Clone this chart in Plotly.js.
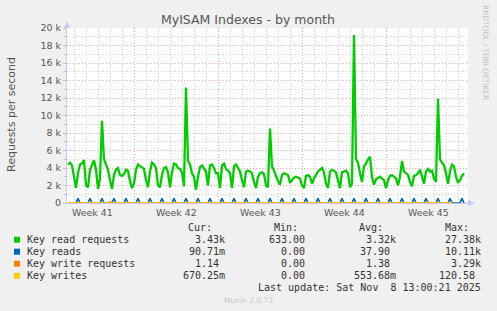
<!DOCTYPE html>
<html>
<head>
<meta charset="utf-8">
<script src="https://cdn.plot.ly/plotly-3.0.1.min.js"></script>
<style>
html,body{margin:0;padding:0;background:#f0f0f0;}
#chart{width:497px;height:311px;}
</style>
</head>
<body>
<div id="chart"></div>
<script>
// ---- DATA ----
const chartTitle = "MyISAM Indexes - by month";
const yTitle = "Requests per second";
const seriesStart = "2025-10-07T12:00:00Z"; // first sample, 4-hour steps
const stepHours = 4;

// Key read requests (requests/s), 4-hourly samples: 00,04,08,12,16,20
const keyReadRequests = [
  4400, 4600, 4300,                       // Oct 7 (12,16,20)
  3000, 1700, 3400, 4400, 4500, 4900,     // Oct 8
  2000, 1800, 3800, 4300, 4900, 3800,     // Oct 9
  1600, 2800, 9400, 5000, 4500, 3800,     // Oct 10
  2600, 1600, 3200, 3800, 4000, 3200,     // Oct 11
  3100, 3300, 3800, 3700, 2500, 1700,     // Oct 12
  2200, 3800, 4400, 4200, 4000, 3900,     // Oct 13
  2600, 1800, 3600, 4600, 4400, 4000,     // Oct 14
  2000, 1800, 3200, 4000, 4100, 3500,     // Oct 15
  1800, 3500, 4500, 4400, 4000, 3900,     // Oct 16
  3500, 1900, 13200, 4800, 4400, 3400,    // Oct 17
  3000, 1500, 3000, 4100, 4300, 4000,     // Oct 18
  3600, 2000, 4300, 4400, 4000, 3400,     // Oct 19
  3400, 1700, 4300, 4500, 3900, 3700,     // Oct 20
  3400, 1700, 4200, 4400, 3900, 3600,     // Oct 21
  2600, 1800, 3600, 3700, 3600, 3400,     // Oct 22
  2400, 1700, 3000, 3400, 3500, 3300,     // Oct 23
  2000, 1800, 8500, 4200, 3700, 3000,     // Oct 24
  2500, 2100, 3200, 3400, 3300, 3200,     // Oct 25
  2300, 2600, 2900, 3000, 2900, 2800,     // Oct 26
  2000, 1700, 3100, 3200, 3000, 2200,     // Oct 27
  2800, 3300, 3600, 3800, 4000, 3500,     // Oct 28
  2200, 1700, 3600, 3800, 3700, 3500,     // Oct 29
  2400, 1700, 3500, 3600, 3700, 3400,     // Oct 30
  1800, 2200, 19200, 5000, 4600, 3400,    // Oct 31
  2400, 4200, 4500, 5000, 5300, 3000,     // Nov 1
  2100, 2700, 2900, 3000, 2800, 2600,     // Nov 2
  1700, 2600, 3100, 3200, 3000, 2800,     // Nov 3
  2000, 3000, 4800, 3600, 3400, 3200,     // Nov 4
  2400, 1900, 3100, 3200, 3400, 3800,     // Nov 5
  3000, 2200, 3600, 3900, 3600, 3700,     // Nov 6
  2800, 2400, 11900, 5000, 4600, 4300,    // Nov 7
  3400, 2200, 3600, 4400, 4200, 3000,     // Nov 8
  2300, 2600, 3100, 3400                  // Nov 9 (00..12)
];

// Key reads
const keyReads = [
  0, 0, 0,
  0, 0, 550, 0, 0, 0,
  0, 0, 550, 0, 0, 0,
  0, 0, 550, 0, 0, 0,
  0, 0, 550, 0, 0, 0,
  0, 0, 550, 0, 0, 0,
  0, 0, 550, 0, 0, 0,
  0, 0, 550, 0, 0, 0,
  0, 0, 550, 0, 0, 0,
  0, 0, 550, 0, 0, 0,
  0, 0, 550, 0, 0, 0,
  0, 0, 550, 0, 0, 0,
  0, 0, 550, 0, 0, 0,
  0, 0, 550, 0, 0, 0,
  0, 0, 550, 0, 0, 0,
  0, 0, 550, 0, 0, 0,
  0, 0, 550, 0, 0, 0,
  0, 0, 550, 0, 0, 0,
  0, 0, 550, 0, 0, 0,
  0, 0, 550, 0, 0, 0,
  0, 0, 550, 0, 0, 0,
  0, 0, 550, 0, 0, 0,
  0, 0, 550, 0, 0, 0,
  0, 0, 550, 0, 0, 0,
  0, 0, 550, 0, 0, 0,
  0, 0, 550, 0, 0, 0,
  0, 0, 550, 0, 0, 0,
  0, 0, 550, 0, 0, 0,
  0, 0, 550, 0, 0, 0,
  0, 0, 550, 0, 0, 0,
  0, 0, 550, 0, 0, 0,
  0, 0, 550, 0, 0, 0,
  0, 0, 550, 0, 0, 0,
  0, 0, 550, 0
];

// Key write requests
const keyWriteRequests = [
  0, 0, 0,
  0, 0, 0, 0, 0, 0,
  0, 0, 0, 0, 0, 0,
  0, 0, 0, 0, 0, 0,
  150, 0, 0, 0, 0, 0,
  0, 0, 0, 0, 0, 0,
  0, 0, 0, 0, 0, 0,
  0, 0, 0, 0, 0, 0,
  0, 0, 0, 0, 0, 0,
  0, 0, 0, 0, 0, 0,
  0, 0, 0, 0, 0, 0,
  0, 0, 0, 0, 0, 0,
  0, 0, 0, 0, 0, 0,
  0, 0, 0, 0, 0, 0,
  0, 0, 0, 0, 0, 0,
  0, 0, 0, 0, 0, 0,
  0, 0, 0, 0, 0, 0,
  0, 0, 0, 0, 0, 0,
  0, 0, 0, 0, 0, 0,
  0, 0, 0, 0, 0, 0,
  0, 0, 0, 0, 0, 0,
  0, 0, 0, 0, 0, 0,
  0, 0, 0, 0, 0, 0,
  0, 0, 0, 0, 0, 0,
  0, 0, 0, 0, 0, 0,
  0, 0, 0, 0, 0, 0,
  0, 0, 0, 0, 0, 0,
  0, 0, 0, 0, 0, 0,
  0, 0, 0, 0, 0, 0,
  0, 0, 0, 0, 0, 0,
  0, 0, 0, 120, 0, 0,
  0, 0, 0, 0, 0, 0,
  0, 0, 0, 0
];

// Key writes
const keyWrites = [
  0, 0, 0,
  0, 0, 0, 0, 0, 0,
  0, 0, 0, 0, 0, 0,
  0, 0, 0, 0, 0, 0,
  0, 0, 0, 0, 0, 0,
  0, 0, 0, 0, 0, 0,
  0, 0, 0, 0, 0, 0,
  0, 0, 0, 0, 0, 0,
  0, 0, 0, 0, 0, 0,
  0, 0, 0, 0, 0, 0,
  0, 0, 0, 0, 0, 0,
  0, 0, 0, 0, 0, 0,
  0, 0, 0, 0, 0, 0,
  0, 0, 0, 0, 0, 0,
  0, 0, 0, 0, 0, 0,
  0, 0, 0, 0, 0, 0,
  0, 0, 0, 0, 0, 0,
  0, 0, 0, 0, 0, 0,
  0, 0, 0, 0, 0, 0,
  0, 0, 0, 0, 0, 0,
  0, 0, 0, 0, 0, 0,
  0, 0, 0, 0, 0, 0,
  0, 0, 0, 0, 0, 0,
  0, 0, 0, 0, 0, 0,
  0, 0, 0, 0, 0, 0,
  0, 0, 0, 0, 0, 0,
  0, 0, 0, 0, 0, 0,
  0, 0, 0, 0, 0, 0,
  0, 0, 0, 0, 0, 0,
  0, 0, 0, 0, 0, 0,
  0, 0, 0, 0, 0, 0,
  0, 0, 0, 0, 0, 0,
  0, 0, 0, 0
];

const seriesNames = ["Key read requests", "Key reads", "Key write requests", "Key writes"];
const seriesColors = ["#00cc00", "#0066b3", "#ff8000", "#ffcc00"];

const weekStarts = ["2025-10-13", "2025-10-20", "2025-10-27", "2025-11-03"];
const weekLabelDates = ["2025-10-09 12:00", "2025-10-16 12:00", "2025-10-23 12:00", "2025-10-30 12:00", "2025-11-06 12:00"];
const weekLabels = ["Week 41", "Week 42", "Week 43", "Week 44", "Week 45"];

const yTickVals = [0, 2000, 4000, 6000, 8000, 10000, 12000, 14000, 16000, 18000, 20000];
const yTickText = ["0", "2 k", "4 k", "6 k", "8 k", "10 k", "12 k", "14 k", "16 k", "18 k", "20 k"];

const statHeaders = ["Cur:", "Min:", "Avg:", "Max:"];
const statCur = ["3.43k", "90.71m", "1.14\u00a0", "670.25m"];
const statMin = ["633.00\u00a0", "0.00\u00a0", "0.00\u00a0", "0.00\u00a0"];
const statAvg = ["3.32k", "37.90\u00a0", "1.38\u00a0", "553.68m"];
const statMax = ["27.38k", "10.11k", "3.29k", "120.58\u00a0"];
const lastUpdate = "Last update: Sat Nov\u00a0\u00a08 13:00:21 2025";
const footer = "Munin 2.0.73";
const sideText = "RRDTOOL / TOBI OETIKER";

// ---- BUILD ----
function pad(n){ return String(n).padStart(2, "0"); }
const t0 = Date.parse(seriesStart);
const times = keyReadRequests.map((_, i) => {
  const d = new Date(t0 + i * stepHours * 3600000);
  return d.getUTCFullYear() + "-" + pad(d.getUTCMonth() + 1) + "-" + pad(d.getUTCDate()) + " " + pad(d.getUTCHours()) + ":00";
});

const allSeries = [keyReadRequests, keyReads, keyWriteRequests, keyWrites];
const widths = [2.3, 1.6, 1.4, 1.4];
const traces = allSeries.map((ys, k) => ({
  type: "scatter", mode: "lines", x: times, y: ys, name: seriesNames[k],
  line: { color: seriesColors[k], width: widths[k] }, hoverinfo: "skip"
}));

const W = 497, H = 311;
const L = 67, R = 468, T = 28, B = 203;
const pw = R - L, ph = B - T;
const px = x => (x - L) / pw;
const py = y => (B - y) / ph;

const mono = "DejaVu Sans Mono, monospace";
const sans = "DejaVu Sans, sans-serif";
const txt = "#333333";

const annotations = [];
function addText(x, y, text, anchor, font){
  annotations.push({ xref: "paper", yref: "paper", x: px(x), y: py(y), text: text, showarrow: false,
    xanchor: anchor, yanchor: "middle", font: font, borderpad: 0 });
}
// Week labels on the time axis
weekLabels.forEach((lab, i) => {
  annotations.push({ xref: "x", yref: "paper", x: weekLabelDates[i], y: py(212.5), text: lab, showarrow: false,
    xanchor: "center", yanchor: "middle", font: { family: sans, size: 9.4, color: "#555" } });
});
// Title
addText(247.5, 19, chartTitle, "center", { family: sans, size: 12.5, color: "#555" });
// Y axis title
annotations.push({ xref: "paper", yref: "paper", x: px(11), y: py(115), text: yTitle, textangle: -90, showarrow: false,
  xanchor: "center", yanchor: "middle", font: { family: sans, size: 11, color: "#555" } });
// Side text
annotations.push({ xref: "paper", yref: "paper", x: px(486), y: py(52), text: sideText, textangle: 90, showarrow: false,
  xanchor: "center", yanchor: "middle", font: { family: sans, size: 7.4, color: "#c0c0c0" } });

// Legend table
const colRight = [226, 311.7, 396.7, 482.3];
const hdrRight = [212.7, 299.3, 384, 470];
const rowY = [239.7, 251.7, 263.7, 275.7];
const f10 = { family: mono, size: 10, color: txt };
statHeaders.forEach((h, i) => addText(hdrRight[i], 227.3, h, "right", f10));
const shapes = [];
seriesNames.forEach((n, r) => {
  addText(26, rowY[r], n, "left", f10);
  addText(colRight[0], rowY[r], statCur[r], "right", f10);
  addText(colRight[1], rowY[r], statMin[r], "right", f10);
  addText(colRight[2], rowY[r], statAvg[r], "right", f10);
  addText(colRight[3], rowY[r], statMax[r], "right", f10);
  shapes.push({ type: "rect", xref: "paper", yref: "paper", x0: px(14), x1: px(20), y0: py(rowY[r] + 3), y1: py(rowY[r] - 3),
    fillcolor: seriesColors[r], line: { width: 0 } });
});
addText(482.3, 287.7, lastUpdate, "right", f10);
addText(248, 300, footer, "center", { family: sans, size: 7.5, color: "#c8c8c8" });

// axis arrows
shapes.push({ type: "path", xref: "paper", yref: "paper", xsizemode: "pixel", ysizemode: "pixel",
  xanchor: 0, yanchor: 1, path: "M-3,0 L3,0 L0,7 Z", fillcolor: "#c8c8f8", line: { width: 0 } });
shapes.push({ type: "path", xref: "paper", yref: "paper", xsizemode: "pixel", ysizemode: "pixel",
  xanchor: 1, yanchor: 0, path: "M0,-3 L0,3 L7,0 Z", fillcolor: "#c8c8f8", line: { width: 0 } });

const layout = {
  width: W, height: H,
  margin: { l: L, r: W - R, t: T, b: H - B, pad: 0 },
  paper_bgcolor: "#f0f0f0", plot_bgcolor: "#ffffff",
  showlegend: false,
  xaxis: {
    type: "date", range: ["2025-10-07 10:00", "2025-11-09 20:00"],
    tickmode: "array", tickvals: weekStarts, ticktext: weekStarts.map(() => ""),
    showgrid: true, gridcolor: "#f0a8a8", griddash: "1px,2px", gridwidth: 1,
    minor: { tickmode: "linear", tick0: "2025-10-06", dtick: 86400000, showgrid: true, gridcolor: "#d4d4d4", griddash: "1px,2px" },
    showline: true, linecolor: "#c8c8f8", linewidth: 1, ticks: "", zeroline: false, fixedrange: true
  },
  yaxis: {
    range: [0, 20000], tickmode: "array", tickvals: yTickVals, ticktext: yTickText,
    showgrid: true, gridcolor: "#f0a8a8", griddash: "1px,2px", gridwidth: 1,
    minor: { tickmode: "linear", tick0: 0, dtick: 1000, showgrid: true, gridcolor: "#d4d4d4", griddash: "1px,2px",
      ticks: "outside", ticklen: 2, tickcolor: "#c0c0c0" },
    ticks: "outside", ticklen: 3, tickcolor: "#c0c0c0",
    showline: true, linecolor: "#c8c8f8", linewidth: 1, zeroline: false,
    tickfont: { family: sans, size: 9.5, color: "#555" },
    fixedrange: true
  },
  annotations: annotations,
  shapes: shapes
};

Plotly.newPlot("chart", traces, layout, { staticPlot: true, displayModeBar: false });
</script>
</body>
</html>
